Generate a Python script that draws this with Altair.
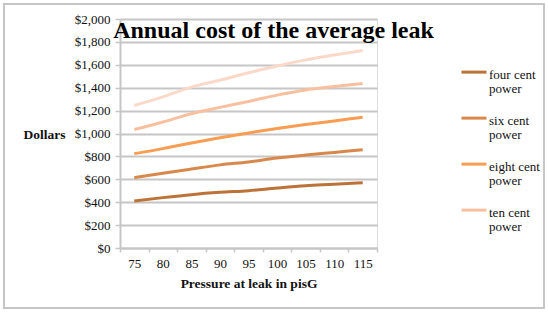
import altair as alt
import pandas as pd

pressures = ["75", "80", "85", "90", "95", "100", "105", "110", "115"]
four_cent = [411, 440, 466, 486, 501, 524, 544, 556, 570]
six_cent = [614, 653, 690, 726, 752, 786, 812, 835, 858]
eight_cent = [824, 868, 917, 963, 1005, 1043, 1078, 1110, 1142]
ten_cent = [1035, 1100, 1172, 1228, 1280, 1335, 1380, 1410, 1437]
twelve_cent = [1245, 1320, 1405, 1465, 1530, 1590, 1643, 1685, 1725]
series_names = ["four cent power", "six cent power", "eight cent power",
                "ten cent power", "twelve cent power"]
legend_names = series_names[:4]
colors = ["#bb7338", "#d9884b", "#f99d52", "#f9c0a0", "#fbd9c8"]
y_ticks = list(range(0, 2001, 200))

rows = []
for name, vals in zip(series_names, [four_cent, six_cent, eight_cent, ten_cent, twelve_cent]):
    for p, v in zip(pressures, vals):
        rows.append({"pressure": p, "cost": v, "series": name})
df = pd.DataFrame(rows)

FONT = "Liberation Serif"
GRID = "#c6c6c6"

lines = alt.Chart(df).mark_line(strokeWidth=3, interpolate="monotone").encode(
    x=alt.X("pressure:O", sort=pressures,
            scale=alt.Scale(type="band", paddingInner=0, paddingOuter=0),
            axis=alt.Axis(title="Pressure at leak in pisG", labelAngle=0, tickBand="extent",
                          grid=False, domainColor=GRID, domainWidth=2, tickColor=GRID,
                          tickSize=4, tickWidth=1.5, labelPadding=5, titlePadding=6,
                          labelFont=FONT, labelFontSize=13, labelColor="#111",
                          titleFont=FONT, titleFontSize=13.5, titleFontWeight="bold",
                          titleColor="#111")),
    y=alt.Y("cost:Q", scale=alt.Scale(domain=[0, 2000], nice=False, zero=True),
            axis=alt.Axis(values=y_ticks, format="$,.0f", title="Dollars",
                          titleAngle=0, titleX=-55, titleY=115, titleAlign="right",
                          titleBaseline="middle", grid=True, gridColor=GRID, gridWidth=2,
                          domainColor=GRID, domainWidth=2, tickColor=GRID, tickSize=5,
                          tickWidth=1.5, labelPadding=5, labelFont=FONT, labelFontSize=13,
                          labelColor="#111", titleFont=FONT, titleFontSize=13.5,
                          titleFontWeight="bold", titleColor="#111")),
    color=alt.Color("series:N", sort=series_names,
                    scale=alt.Scale(domain=series_names, range=colors),
                    legend=alt.Legend(values=legend_names, title=None, orient="none",
                                      legendX=340, legendY=36, padding=0,
                                      symbolType="M-1,0.25L1,0.25", symbolSize=625,
                                      symbolStrokeWidth=3, rowPadding=5,
                                      labelOffset=1, labelBaseline="top",
                                      labelFont=FONT, labelFontSize=13, labelColor="#111",
                                      labelExpr="[replace(datum.label, ' power', ''), 'power']")),
)

frame = alt.Chart(df).mark_rect(fill=None, stroke=GRID, strokeWidth=2).encode(
    x=alt.value(-116), x2=alt.value(424), y=alt.value(-15), y2=alt.value(289)
).transform_filter("datum.pressure == '75' && datum.series == 'four cent power'")

chart = alt.layer(frame, lines).properties(
    width=257, height=229,
    padding={"left": 120, "top": 19, "right": 171, "bottom": 64},
    autosize=alt.AutoSizeParams(type="none"),
    title=alt.TitleParams("Annual cost of the average leak", font=FONT, fontSize=24,
                          fontWeight="bold", color="#000", frame="group", anchor="middle",
                          baseline="alphabetic", offset=0, dx=25, dy=59),
).configure_view(stroke=None).configure(
    background="white",
    style={"guide-label": {"lineHeight": 14}},
)

chart.save("out.html", embed_options={"renderer": "svg", "actions": False})
